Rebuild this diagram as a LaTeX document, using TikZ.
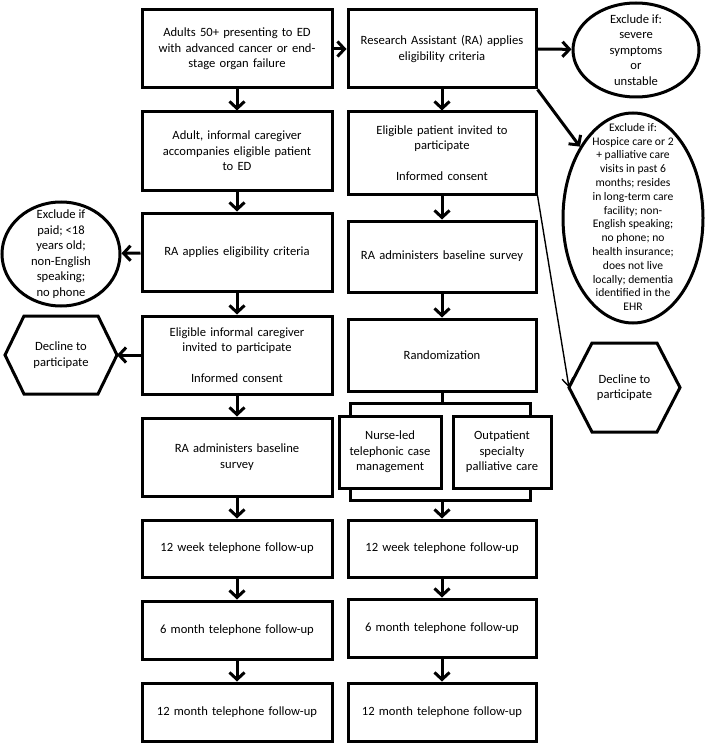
\documentclass[tikz,border=0pt]{standalone}
\usepackage{fontspec}
\setmainfont{Carlito}
\usetikzlibrary{arrows.meta,shapes.geometric}
\tikzset{
  box/.style={draw, line width=3pt, align=center, inner sep=0pt, font=\fontsize{12.6}{15.5}\selectfont},
  lbox/.style={box, minimum width=190pt, text width=178pt},
  rbox/.style={box, minimum width=188pt, text width=176pt},
  oval/.style={draw, line width=3pt, ellipse, inner sep=0pt},
  ovaltext/.style={align=center, inner sep=0pt, font=\fontsize{12.6}{15.5}\selectfont},
  hexshape/.style={line width=3pt, line join=miter},
  flow/.style={line width=3pt, -{Straight Barb[length=7pt,width=15pt]}},
  thinflow/.style={line width=1.4pt, -{Straight Barb[length=8pt,width=11pt]}},
  bracket/.style={line width=3pt},
}
\begin{document}
\begin{tikzpicture}[x=1pt,y=-1pt]
\useasboundingbox (0,0) rectangle (708,746);

% left column
\node[lbox, minimum height=78pt] (L1) at (237,49) {Adults 50+ presenting to ED\\with advanced cancer or end-\\stage organ failure};
\node[lbox, minimum height=78pt] (L2) at (237,151) {Adult, informal caregiver\\accompanies eligible patient\\to ED};
\node[lbox, minimum height=78pt] (L3) at (237,252) {RA applies eligibility criteria};
\node[lbox, minimum height=78pt] (L4) at (237,355) {Eligible informal caregiver\\invited to participate\\[15.5pt]Informed consent};
\node[lbox, minimum height=78pt] (L5) at (237,457) {RA administers baseline\\survey};
\node[lbox, minimum height=57pt] (L6) at (237,548.5) {12 week telephone follow-up};
\node[lbox, minimum height=58pt] (L7) at (237,630) {6 month telephone follow-up};
\node[lbox, minimum height=58pt] (L8) at (237,712) {12 month telephone follow-up};

% right column
\node[rbox, minimum height=78pt] (R1) at (442,49) {Research Assistant (RA) applies\\eligibility criteria};
\node[rbox, minimum height=82pt] (R2) at (442,153) {Eligible patient invited to\\participate\\[15.5pt]Informed consent};
\node[rbox, minimum height=71pt] (R3) at (442,256.5) {RA administers baseline survey};
\node[rbox, minimum height=72pt] (R4) at (442,355) {Randomization};
\node[box, minimum width=102pt, minimum height=72pt, text width=98pt] (N) at (390,452) {Nurse-led\\telephonic case\\management};
\node[box, minimum width=98pt, minimum height=72pt, text width=94pt] (O) at (502,452) {Outpatient\\specialty\\palliative care};
\node[rbox, minimum height=57pt] (R6) at (442,548.5) {12 week telephone follow-up};
\node[rbox, minimum height=58pt] (R7) at (442,628) {6 month telephone follow-up};
\node[rbox, minimum height=58pt] (R8) at (442,712) {12 month telephone follow-up};

% exclusion ovals
\node[oval, minimum width=126pt, minimum height=94pt] (E1) at (636,50) {};
\node[ovaltext] (E1t) at (E1) {Exclude if:\\severe\\symptoms\\or\\unstable};
\node[oval, minimum width=140pt, minimum height=210pt] (E2) at (633,218) {};
\node[ovaltext, font=\fontsize{11.6}{13.8}\selectfont] (E2t) at (633,217) {Exclude if:\\Hospice care or 2\\+ palliative care\\visits in past 6\\months; resides\\in long-term care\\facility; non-\\English speaking;\\no phone; no\\health insurance;\\does not live\\locally; dementia\\identified in the\\EHR};
\node[oval, minimum width=118pt, minimum height=104pt] (E3) at (61,254) {};
\node[ovaltext] (E3t) at (E3) {Exclude if\\paid; <18\\years old;\\non-English\\speaking;\\no phone};

% decline hexagons
\coordinate (H1w) at (5,355);
\coordinate (H1e) at (117,355);
\draw[hexshape] (H1w) -- (24,316) -- (98,316) -- (H1e) -- (98,394) -- (24,394) -- cycle;
\node[ovaltext] (H1) at (61,355) {Decline to\\participate};
\coordinate (H2w) at (569,387.5);
\coordinate (H2e) at (680,387.5);
\draw[hexshape] (H2w) -- (592,343) -- (657,343) -- (H2e) -- (657,432) -- (592,432) -- cycle;
\node[ovaltext] (H2) at (624.5,387.5) {Decline to\\participate};

% left flow
\draw[flow] (L1) -- (L2);
\draw[flow] (L2) -- (L3);
\draw[flow] (L3) -- (L4);
\draw[flow] (L4) -- (L5);
\draw[flow] (L5) -- (L6);
\draw[flow] (L6) -- (L7);
\draw[flow] (L7) -- (L8);
\draw[flow] (L1) -- (R1);
\draw[flow] (L3) -- (E3);
\draw[flow] (L4.west) -- (H1e);

% right flow
\draw[flow] (R1) -- (R2);
\draw[flow] (R2) -- (R3);
\draw[flow] (R3) -- (R4);
\draw[flow] (R1.east) -- (E1);
\draw[flow] (R1.south east) -- (E2);
\draw[thinflow] (R2.south east) -- (H2w);

% randomization brackets
\coordinate (BT) at (442,403);
\coordinate (BB) at (442,500);
\draw[bracket] (R4.south) -- (BT);
\draw[bracket, line join=miter] (350,416) -- (350,403) -- (530,403) -- (530,416);
\draw[bracket, line join=miter] (350,488) -- (350,500) -- (530,500) -- (530,488);
\draw[flow] (BB) -- (R6.north);
\draw[flow] (R6) -- (R7);
\draw[flow] (R7) -- (R8);
\end{tikzpicture}
\end{document}
